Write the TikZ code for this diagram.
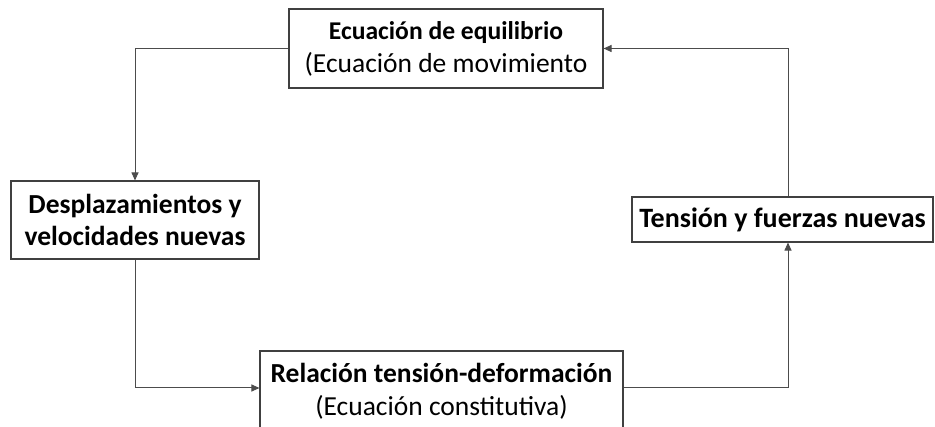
\documentclass[tikz,border=0pt]{standalone}
\usepackage{fontspec}
\setmainfont{Carlito}
\usetikzlibrary{arrows.meta}
\begin{document}
\begin{tikzpicture}[x=1pt,y=-1pt,
 box/.style={draw=black!75, line width=1.1pt, inner sep=0pt, align=center, font=\fontsize{27.5}{32}\selectfont},
 conn/.style={draw=black!70, line width=1pt, -{Triangle[length=8pt,width=7pt]}}]
\useasboundingbox (0,0) rectangle (935,427);
\node[box, minimum width=314pt, minimum height=79pt, font=\fontsize{27.5}{33}\selectfont] (eq) at (446,48.5) {{\fontsize{25.6}{33}\selectfont\textbf{Ecuación de equilibrio}}\\(Ecuación de movimiento};
\node[box, minimum width=248pt, minimum height=78pt] (des) at (135,220) {\textbf{Desplazamientos y}\\\textbf{velocidades nuevas}};
\node[box, minimum width=301pt, minimum height=45pt, font=\fontsize{28}{32}\selectfont] (ten) at (782.5,219.5) {\textbf{Tensión y fuerzas nuevas}};
\node[box, minimum width=363pt, minimum height=81pt] (rel) at (441.5,391.5) {};
\node[align=center, inner sep=0pt, anchor=base, font=\fontsize{27.5}{33}\selectfont] (reltext) at (441.5,416) {\textbf{Relación tensión-deformación}\\(Ecuación constitutiva)};
\draw[conn] (eq.west) -| (des.north);
\draw[conn] (des.south) |- ([yshift=3.5pt]rel.west);
\draw[conn] ([yshift=3.5pt]rel.east) -| ([xshift=5.5pt]ten.south);
\draw[conn] ([xshift=5.5pt]ten.north) |- (eq.east);
\end{tikzpicture}
\end{document}
